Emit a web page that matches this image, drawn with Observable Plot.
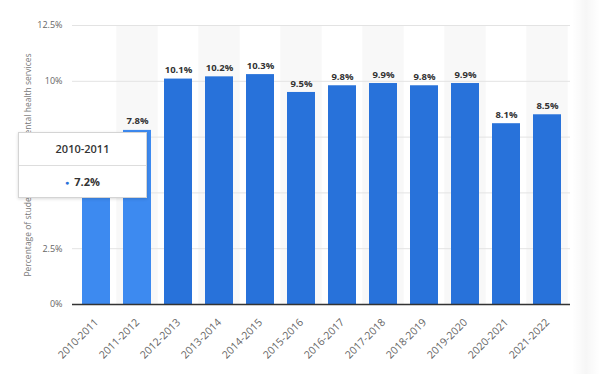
<!DOCTYPE html>
<html>
<head>
<meta charset="utf-8">
<script src="https://cdn.jsdelivr.net/npm/d3@7"></script>
<script src="https://cdn.jsdelivr.net/npm/@observablehq/plot@0.6"></script>
<style>
  html, body { margin: 0; padding: 0; background: #fff; }
  #wrap { position: relative; width: 600px; height: 374px; overflow: hidden; font-family: "Open Sans", sans-serif; }
  #tip { position: absolute; left: 18px; top: 132px; width: 129px; height: 66px; background: #fff;
         border: 1px solid #d4d4d4; box-shadow: 0 1px 3px rgba(0,0,0,0.15); box-sizing: border-box; }
  #tip .t { text-align: center; font-weight: 600; font-size: 11px; color: #333; height: 32px; line-height: 32px; border-bottom: 1px solid #ddd; }
  #tip .v { text-align: center; font-weight: bold; font-size: 11px; color: #333; line-height: 32px; }
  #tip .dot { color: #2872da; font-size: 7px; margin-right: 5px; vertical-align: 1px; }
  #shade { position: absolute; left: 572px; top: 0; width: 28px; height: 374px;
           background: linear-gradient(to right, rgba(0,0,0,0.0), rgba(0,0,0,0.035), rgba(0,0,0,0)); }
</style>
</head>
<body>
<div id="wrap"></div>
<script>
const categories = ["2010-2011","2011-2012","2012-2013","2013-2014","2014-2015","2015-2016","2016-2017","2017-2018","2018-2019","2019-2020","2020-2021","2021-2022"];
const values = [7.2, 7.8, 10.1, 10.2, 10.3, 9.5, 9.8, 9.9, 9.8, 9.9, 8.1, 8.5];
const yTicks = [0, 2.5, 5, 7.5, 10, 12.5];
const highlighted = ["2010-2011", "2011-2012"];
const yLabel = "Percentage of students who used mental health services";
const tipIndex = 0;

const data = categories.map((c, i) => ({category: c, value: values[i]}));
const striped = categories.filter((c, i) => i % 2 === 1);

const width = 600, marginLeft = 72, marginRight = 30;
const paddingInner = 0.32, paddingOuter = 0.16;
const step = (width - marginLeft - marginRight) / (categories.length - paddingInner + 2 * paddingOuter);
const stripeInset = -step * paddingInner / 2;

const chart = Plot.plot({
  width, height: 374,
  marginLeft, marginRight, marginTop: 25, marginBottom: 70,
  style: {fontFamily: "'Open Sans', sans-serif", background: "transparent"},
  x: {domain: categories, paddingInner, paddingOuter, label: null},
  y: {domain: [0, 12.5], label: null},
  marks: [
    Plot.barY(striped, {x: d => d, y1: 0, y2: 12.5, fill: "#f8f8f8", insetLeft: stripeInset, insetRight: stripeInset}),
    Plot.gridY(yTicks, {stroke: "#e3e3e3", strokeOpacity: 1}),
    Plot.axisY({ticks: yTicks, tickSize: 0, tickPadding: 10, tickFormat: d => d + "%", fill: "#666", fontSize: 9,
      label: yLabel, labelAnchor: "center", labelOffset: 48, labelArrow: "none"}),
    Plot.axisX({tickRotate: -45, tickSize: 0, tickPadding: 16, fill: "#666", fontSize: 10.5, label: null}),
    Plot.barY(data, {x: "category", y: "value", fill: d => highlighted.includes(d.category) ? "#3d8af0" : "#2872da"}),
    Plot.ruleY([0], {stroke: "#333", strokeWidth: 1.5}),
    Plot.text(data, {x: "category", y: "value", text: d => d.value.toFixed(1) + "%", dy: -9, fontWeight: "bold", fill: "#333", fontSize: 9.5})
  ]
});
const wrap = document.getElementById("wrap");
wrap.appendChild(chart);
chart.querySelectorAll("text").forEach(t => { if (t.textContent === yLabel) { t.setAttribute("font-size", "8.5"); t.setAttribute("fill", "#777"); } });

const tip = document.createElement("div");
tip.id = "tip";
tip.innerHTML = `<div class="t">${data[tipIndex].category}</div><div class="v"><span class="dot">●</span>${data[tipIndex].value.toFixed(1)}%</div>`;
wrap.appendChild(tip);
const shade = document.createElement("div");
shade.id = "shade";
wrap.appendChild(shade);
</script>
</body>
</html>
